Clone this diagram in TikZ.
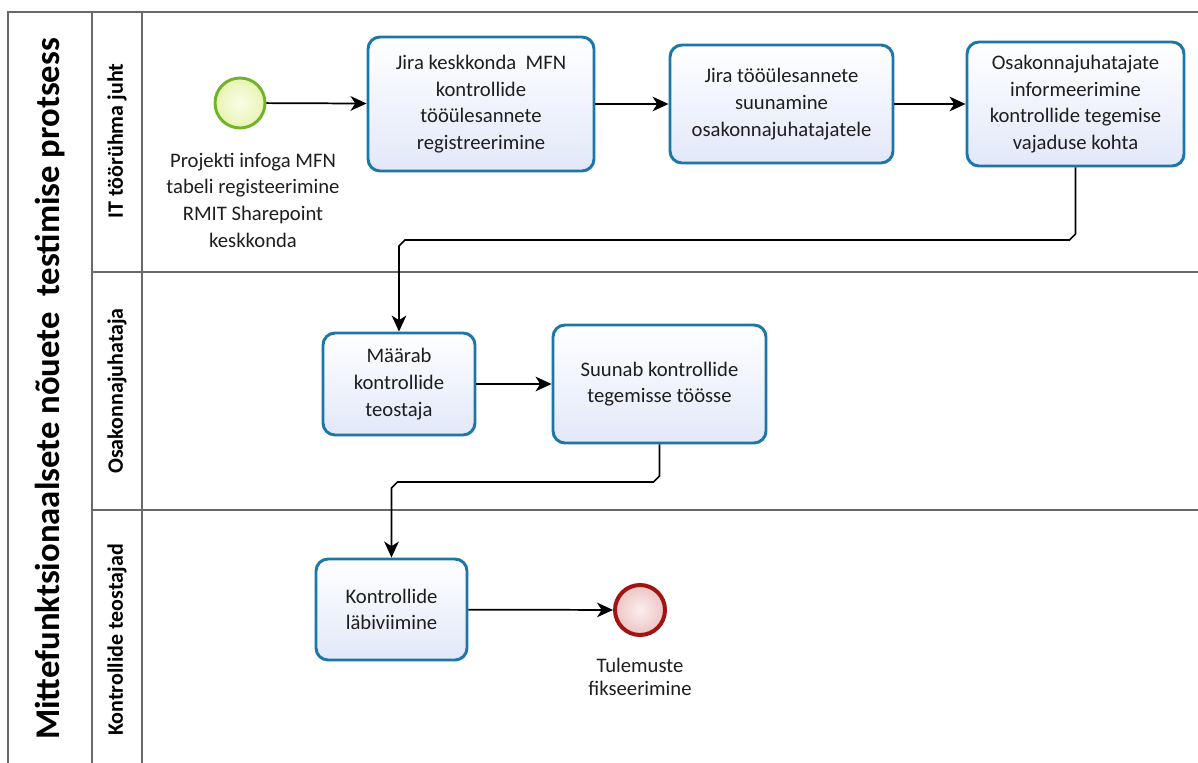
\documentclass[tikz,border=0pt]{standalone}
\usepackage{fontspec}
\setmainfont{Carlito}
\usetikzlibrary{arrows.meta,calc}

\definecolor{taskblue}{RGB}{28,118,168}
\definecolor{taskfill}{RGB}{226,232,249}
\definecolor{startline}{RGB}{112,178,40}
\definecolor{startin}{RGB}{250,253,232}
\definecolor{startout}{RGB}{232,244,178}
\definecolor{endline}{RGB}{160,20,20}
\definecolor{endin}{RGB}{252,238,238}
\definecolor{endout}{RGB}{238,196,196}
\definecolor{laneline}{RGB}{105,105,105}
\definecolor{ink}{RGB}{30,30,30}

\tikzset{
  lane/.style={draw=laneline, line width=1.3pt},
  task/.style={draw=taskblue, line width=2.2pt, rounded corners=9pt,
    top color=white, bottom color=taskfill, align=center, text=ink,
    font=\fontsize{15.5}{20}\selectfont, inner sep=0pt},
  startev/.style={circle, draw=startline, line width=2.2pt,
    inner color=startin, outer color=startout, minimum size=37.5pt, inner sep=0pt},
  endev/.style={circle, draw=endline, line width=3pt,
    inner color=endin, outer color=endout, minimum size=37.5pt, inner sep=0pt},
  evlabel/.style={align=center, text=ink, font=\fontsize{15.5}{20}\selectfont},
  flow/.style={line width=1.3pt, draw=black, -{Stealth[length=12pt,width=11pt,inset=3.5pt]}},
  lanetitle/.style={rotate=90, font=\fontsize{16.5}{19}\selectfont\bfseries, text=black},
  pooltitle/.style={rotate=90, font=\fontsize{26}{29}\selectfont\bfseries, text=black},
}

\begin{document}
\begin{tikzpicture}[x=0.75pt, y=-0.75pt]
\useasboundingbox[fill=white] (0,0) rectangle (1198,763);

% pool and lane frame
\draw[lane] (8,763) -- (8,12) -- (1198,12);
\draw[lane] (92,12) -- (92,763);
\draw[lane] (142,12) -- (142,763);
\draw[lane] (92,272) -- (1198,272);
\draw[lane] (92,510) -- (1198,510);

% pool and lane titles
\node[pooltitle] (pool) at (50,389) {Mittefunktsionaalsete nõuete\ \ testimise protsess};
\node[lanetitle] (lane1) at (117,141) {IT töörühma juht};
\node[lanetitle] (lane2) at (117,391) {Osakonnajuhataja};
\node[lanetitle] (lane3) at (117,640) {Kontrollide teostajad};

% lane 1
\node[startev] (start) at (240,103) {};
\node[evlabel] (startlbl) at (253,200) {Projekti infoga MFN\\tabeli registeerimine\\RMIT Sharepoint\\keskkonda};
\node[task, minimum width=169.5pt, minimum height=100.5pt] (t1) at (481,104)
  {Jira keskkonda\ \ MFN\\kontrollide\\tööülesannete\\registreerimine};
\node[task, minimum width=167.25pt, minimum height=88.5pt] (t2) at (781.5,104)
  {Jira tööülesannete\\suunamine\\osakonnajuhatajatele};
\node[task, minimum width=162.75pt, minimum height=93pt] (t3) at (1075.5,104)
  {Osakonnajuhatajate\\informeerimine\\kontrollide tegemise\\vajaduse kohta};

% lane 2
\node[task, minimum width=114pt, minimum height=76.5pt] (t4) at (399,384)
  {Määrab\\kontrollide\\teostaja};
\node[task, minimum width=159.75pt, minimum height=88.5pt] (t5) at (659.5,384)
  {Suunab kontrollide\\tegemisse töösse};

% lane 3
\node[task, minimum width=113.25pt, minimum height=75.75pt] (t6) at (391.5,609.5)
  {Kontrollide\\läbiviimine};
\node[endev] (end) at (640,610) {};
\node[evlabel, font=\fontsize{15.5}{17.5}\selectfont] (endlbl) at (640,677) {Tulemuste\\fikseerimine};

% routing levels of the elbow connectors
\coordinate (r1) at (0,240);
\coordinate (r2) at (0,482);

% sequence flows
\draw[flow] (start) -- (t1);
\draw[flow] (t1) -- (t2);
\draw[flow] (t2) -- (t3);
\draw[flow] (t3.south) -- ($(t3.south |- r1)+(0,-6)$) -- ($(t3.south |- r1)+(-6,0)$)
  -- ($(t4.north |- r1)+(6,0)$) -- ($(t4.north |- r1)+(0,6)$) -- (t4.north);
\draw[flow] (t4) -- (t5);
\draw[flow] (t5.south) -- ($(t5.south |- r2)+(0,-6)$) -- ($(t5.south |- r2)+(-6,0)$)
  -- ($(t6.north |- r2)+(6,0)$) -- ($(t6.north |- r2)+(0,6)$) -- (t6.north);
\draw[flow] (t6) -- (end);
\end{tikzpicture}
\end{document}
